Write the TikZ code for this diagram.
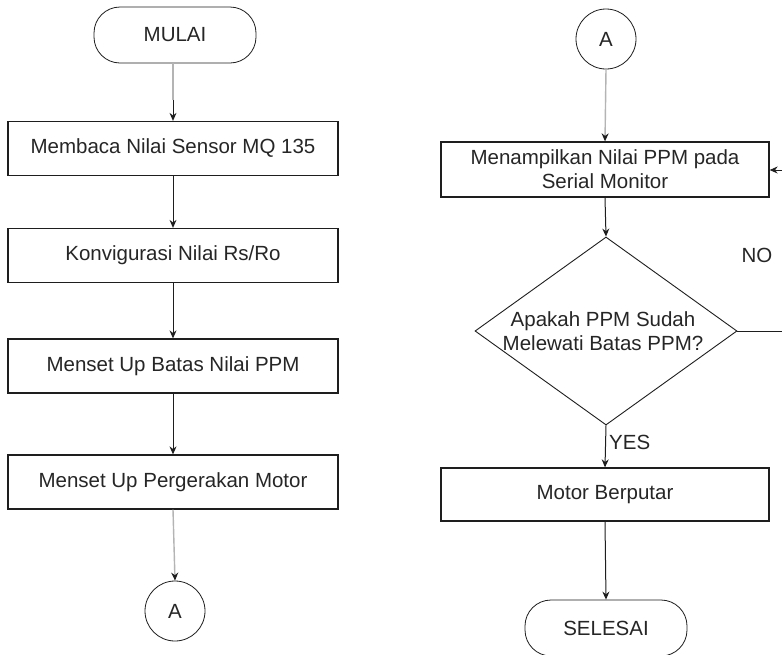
\documentclass[tikz,border=0pt]{standalone}
\usepackage{fontspec}
\setmainfont{Liberation Sans}
\usetikzlibrary{arrows.meta,shapes.geometric}
\definecolor{ln}{HTML}{1E1E1E}
\definecolor{txt}{HTML}{262626}
\definecolor{gl}{HTML}{B4B4B4}
\begin{document}
\begin{tikzpicture}[x=1pt,y=-1pt,
  every node/.style={font=\fontsize{20.5}{24}\selectfont, text=txt},
  procbox/.style={draw=ln, line width=1.3pt, minimum width=330pt, minimum height=54pt, inner sep=0pt, align=center},
  term/.style={draw=ln, line width=0.8pt, rounded corners=26pt, minimum width=162pt, minimum height=56pt, inner sep=0pt},
  conn/.style={draw=ln, circle, line width=0.8pt, minimum size=60pt, inner sep=0pt},
  dec/.style={draw=ln, diamond, line width=0.9pt, minimum width=262pt, minimum height=188pt, inner sep=0pt},
  dectext/.style={align=center, inner sep=0pt},
  flow/.style={draw=ln, line width=1pt, -{Stealth[length=8pt,width=7pt]}},
  plain/.style={draw=ln, line width=1pt},
  gline/.style={draw=gl, line width=1.4pt},
  gflow/.style={draw=gl, line width=1.4pt, -{Stealth[length=8pt,width=7pt,color=ln]}},
  lbl/.style={font=\fontsize{20.5}{24}\selectfont, text=txt, inner sep=0pt}
]
\useasboundingbox (0,0) rectangle (782,654);
\fill[white] (0,0) rectangle (782,654);

% left column
\node[term] (mulai) at (175,35) {MULAI};
\node[procbox] (b1) at (173,148.5) {Membaca Nilai Sensor MQ 135};
\node[procbox] (b2) at (173,255.5) {Konvigurasi Nilai Rs/Ro};
\node[procbox] (b3) at (173,366) {Menset Up Batas Nilai PPM};
\node[procbox] (b4) at (173,482) {Menset Up Pergerakan Motor};
\node[conn] (aL) at (175,611) {A};

\coordinate (m1) at (173,100);
\draw[gline] (173,63) -- (m1);
\draw[flow] (m1) -- (b1.north);
\draw[flow] (b1) -- (b2);
\draw[flow] (b2) -- (b3);
\draw[flow] (b3) -- (b4);
\draw[gflow] (b4.south) -- (aL.north);

% right column
\node[conn] (aR) at (606,39) {A};
\node[procbox, minimum width=328pt, minimum height=55pt] (disp) at (605,169.5) {Menampilkan Nilai PPM pada\\Serial Monitor};
\node[dec] (dec) at (606,331) {};
\node[dectext] (dect) at (603,331) {Apakah PPM Sudah\\Melewati Batas PPM?};
\node[procbox, minimum width=328pt, minimum height=53pt] (motor) at (605,494.5) {Motor Berputar};
\node[term] (selesai) at (606,628) {SELESAI};

\draw[gflow] (aR.south) -- (disp.north);
\draw[flow] (disp.south) -- (dec.north);
\draw[flow] (dec.south) -- (motor.north);
\draw[flow] (motor.south) -- (selesai.north);

\coordinate (nr) at (786,331);
\coordinate (nt) at (786,170);
\draw[plain] (dec.east) -- (nr) -- (nt);
\draw[flow] (nt) -- (disp.east |- nt);

\node[lbl] (no) at (757,255) {NO};
\node[lbl, anchor=west] (yes) at (609,442) {YES};
\end{tikzpicture}
\end{document}
